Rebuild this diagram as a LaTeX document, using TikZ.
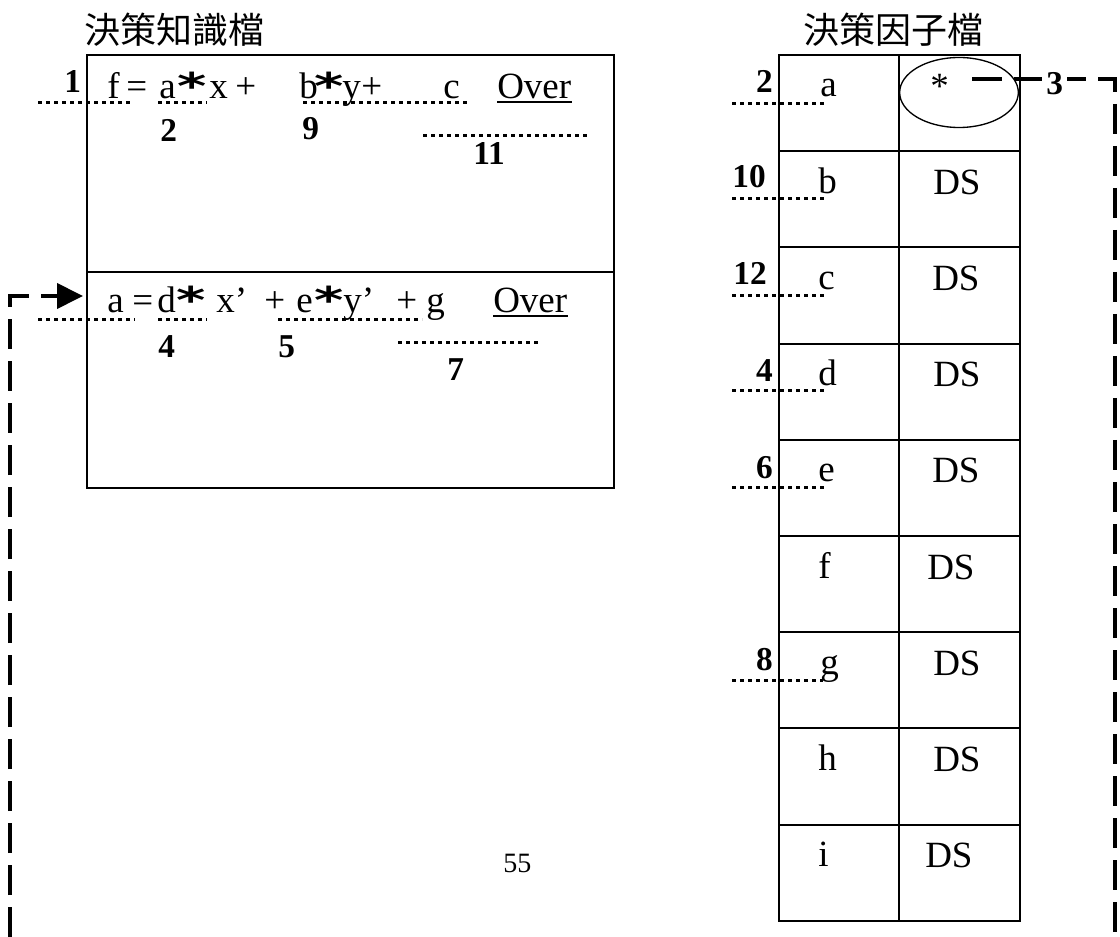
\documentclass[tikz,border=0pt]{standalone}
\usepackage{fontspec}
\setmainfont{Liberation Serif}
\newfontfamily\cjk{Noto Sans CJK TC}
\newfontfamily\starfont{DejaVu Sans}
\usetikzlibrary{arrows.meta,shapes.geometric}
\newcommand{\bigstar}{\scalebox{1}[0.66]{*}}
\begin{document}
\begin{tikzpicture}[x=0.75pt,y=-0.75pt,
  txt/.style={anchor=base west,inner sep=0pt,font=\fontsize{27.75}{30}\selectfont},
  num/.style={anchor=base west,inner sep=0pt,font=\fontsize{25}{28}\selectfont\bfseries},
  star/.style={anchor=base,inner sep=0pt,font=\starfont\bfseries\fontsize{42}{44}\selectfont},
  ttl/.style={anchor=base west,inner sep=0pt,font=\cjk\fontsize{27}{30}\selectfont},
  frame/.style={line width=1.5pt},
  dots/.style={line width=2.25pt,dash pattern=on 3pt off 3pt},
  fb/.style={line width=3pt,dash pattern=on 22.5pt off 9pt},
  uline/.style={line width=1.5pt}]
\useasboundingbox (0,0) rectangle (1120,937);

% titles
\node[ttl] (title1) at (84,44) {決策知識檔};
\node[ttl] (title2) at (803,44) {決策因子檔};

% left box
\draw[frame] (87,55) rectangle (614,488);
\draw[frame] (87,272) -- (614,272);

% top equation
\node[txt] (t1f) at (107,99) {f};
\node[txt] (t1eq) at (126,99) {=};
\node[txt] (t1a) at (159,99) {a};
\node[star] (t1s1) at (192.5,100) {\bigstar};
\node[txt] (t1x) at (209,99) {x};
\node[txt] (t1p1) at (235,99) {+};
\node[txt] (t1b) at (299,99) {b};
\node[star] (t1s2) at (329,100) {\bigstar};
\node[txt] (t1y) at (342,99) {y};
\node[txt] (t1p2) at (361,99) {+};
\node[txt] (t1c) at (443,99) {c};
\node[txt] (t1o) at (497,99) {Over};
\draw[uline] ([yshift=-2.25pt]t1o.base west) -- ([yshift=-2.25pt]t1o.base east);

\draw[dots] (38,103) -- (133,103);
\draw[dots] (158,103) -- (207,103);
\draw[dots] (303,103) -- (468,103);
\draw[dots] (423,136) -- (588,136);

\node[num] (n1) at (64,93) {1};
\node[num] (n2) at (160,142) {2};
\node[num] (n9) at (302,140) {9};
\node[num] (n11) at (473,165) {11};

% bottom equation
\node[txt] (t2a) at (107,313) {a};
\node[txt] (t2eq) at (132,313) {=};
\node[txt] (t2d) at (157,313) {d};
\node[star] (t2s1) at (191,314) {\bigstar};
\node[txt] (t2x) at (216,313) {x’};
\node[txt] (t2p1) at (264,313) {+};
\node[txt] (t2e) at (296,313) {e};
\node[star] (t2s2) at (329,314) {\bigstar};
\node[txt] (t2y) at (343,313) {y’};
\node[txt] (t2p2) at (396,313) {+};
\node[txt] (t2g) at (426,313) {g};
\node[txt] (t2o) at (493,313) {Over};
\draw[uline] ([yshift=-2.25pt]t2o.base west) -- ([yshift=-2.25pt]t2o.base east);

\draw[dots] (38,320) -- (135,320);
\draw[dots] (158,320) -- (207,320);
\draw[dots] (278,320) -- (422,320);
\draw[dots] (398,343) -- (540,343);

\node[num] (n4) at (158,358) {4};
\node[num] (n5) at (278,358) {5};
\node[num] (n7) at (447,381) {7};

% page number
\node[anchor=base west,inner sep=0pt,font=\fontsize{21}{24}\selectfont] (pg) at (503,872) {55};

% right table
\draw[frame] (779,55) rectangle (1020,920.8);
\draw[frame] (899,55) -- (899,920.8);
\foreach \k in {1,...,8} {
  \draw[frame] (779,55+96.2*\k) -- (1020,55+96.2*\k);
}
\node[txt] (ra) at (820,97) {a};
\node[txt] (rb) at (818,193.2) {b};
\node[txt] (rc) at (818,289.4) {c};
\node[txt] (rd) at (818,385.6) {d};
\node[txt] (re) at (818,481.8) {e};
\node[txt] (rf) at (818,578) {f};
\node[txt] (rg) at (820,674.2) {g};
\node[txt] (rh) at (818,770.4) {h};
\node[txt] (ri) at (818,866.6) {i};

\node[txt] (vb) at (933,194.2) {DS};
\node[txt] (vc) at (932,290.4) {DS};
\node[txt] (vd) at (933,386.6) {DS};
\node[txt] (ve) at (932,482.8) {DS};
\node[txt] (vf) at (927,579) {DS};
\node[txt] (vg) at (933,675.2) {DS};
\node[txt] (vh) at (933,771.4) {DS};
\node[txt] (vi) at (925,867.6) {DS};

\node[draw,ellipse,line width=1pt,minimum width=89pt,minimum height=52.5pt,inner sep=0pt] (oval) at (959,92.5) {};
\node[txt] (va) at (930,99) {*};

\node[num,anchor=base east] (m2) at (773,93) {2};
\node[num,anchor=base east] (m10) at (766,188) {10};
\node[num,anchor=base east] (m12) at (767,285) {12};
\node[num,anchor=base east] (m4) at (773,382) {4};
\node[num,anchor=base east] (m6) at (773,478) {6};
\node[num,anchor=base east] (m8) at (773,670) {8};

\draw[dots] (732,104) -- (827,104);
\draw[dots] (732,199) -- (827,199);
\draw[dots] (732,296) -- (827,296);
\draw[dots] (732,391) -- (827,391);
\draw[dots] (732,487) -- (827,487);
\draw[dots] (732,680) -- (823,680);

% feedback connector
\coordinate (s3) at (972,79);
\coordinate (rcorner) at (1115,79);
\coordinate (rbottom) at (1115,937);
\draw[fb] (s3) -- (rcorner) -- (rbottom);
\node[num,fill=white,inner xsep=3pt,inner ysep=1pt] (n3) at (1042,95) {3};

\coordinate (lbottom) at (10,937);
\coordinate (lcorner) at (10,296);
\coordinate (tip) at (83,296);
\draw[fb,-{Triangle[length=19.5pt,width=18.75pt]}] (lbottom) -- (lcorner) -- (tip);
\end{tikzpicture}
\end{document}
